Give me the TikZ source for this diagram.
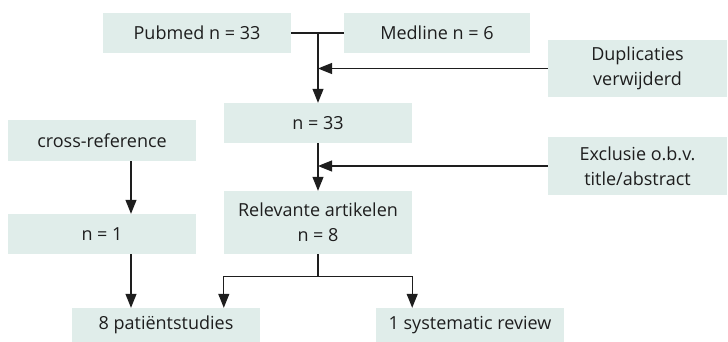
\documentclass[tikz,border=0pt]{standalone}
\usepackage{fontspec}
\setmainfont{Open Sans}
\usepackage{tikz}
\usetikzlibrary{arrows.meta,positioning}
\definecolor{boxfill}{RGB}{224,237,234}
\definecolor{ink}{RGB}{30,30,30}

\begin{document}
\begin{tikzpicture}[x=1pt, y=-1pt,
  box/.style={fill=boxfill, align=center, inner sep=0pt, text=ink,
              minimum width=188pt, minimum height=40pt,
              font=\fontsize{18}{25}\selectfont},
  side/.style={box, minimum width=179pt, minimum height=57pt},
  dep/.style={-{Triangle[length=14pt, width=11pt]}, line width=1.1pt, draw=ink},
  lin/.style={line width=1.1pt, draw=ink}
]
  \useasboundingbox (0,0) rectangle (728,342);
  % Row 1
  \node[box] (PM) at (197,33)   {Pubmed n = 33};
  \node[box, minimum width=186pt] (ML) at (437,33) {Medline n = 6};
  \node[side] (DU) at (637.5,68.5) {Duplicaties\\ verwijderd};
  % Row 2
  \node[box] (N33) at (318,123) {n = 33};
  \node[box, minimum height=41pt] (CR) at (102,140.5) {cross-reference};
  \node[side, minimum height=58pt] (EX) at (637.5,166) {Exclusie o.b.v.\\ title/abstract};
  % Row 3
  \node[box, minimum height=63pt] (RA) at (318,222.5) {Relevante artikelen\\ n = 8};
  \node[box] (N1) at (102,234)  {n = 1};
  % Row 4
  \node[box, minimum height=34pt] (PS) at (166,325) {8 pati\"entstudies};
  \node[box, minimum height=34pt] (SR) at (470,325) {1 systematic review};

  % joins on the main column
  \coordinate (J0) at (N33.north |- PM.east);
  \coordinate (J1) at (N33.north |- DU.west);
  \coordinate (J2) at (N33.north |- EX.west);

  % Main dependencies
  \draw[lin] (PM.east) -- (ML.west);
  \draw[dep] (J0) -- (N33.north);
  \draw[dep] (DU.west) -- (J1);
  \draw[dep] (N33.south) -- (RA.north);
  \draw[dep] (EX.west) -- (J2);
  \draw[dep] ([xshift=29pt]CR.south) -- ([xshift=29pt]N1.north);
  \draw[dep] ([xshift=29pt]N1.south) -- ([xshift=29pt]N1.south |- PS.north);

  % split below the relevant articles
  \draw[lin] (RA.south) -- ++(0,22) coordinate (J3);
  \draw[dep] (J3) -| (RA.west |- PS.north);
  \draw[dep] (J3) -| (RA.east |- SR.north);
\end{tikzpicture}
\end{document}
